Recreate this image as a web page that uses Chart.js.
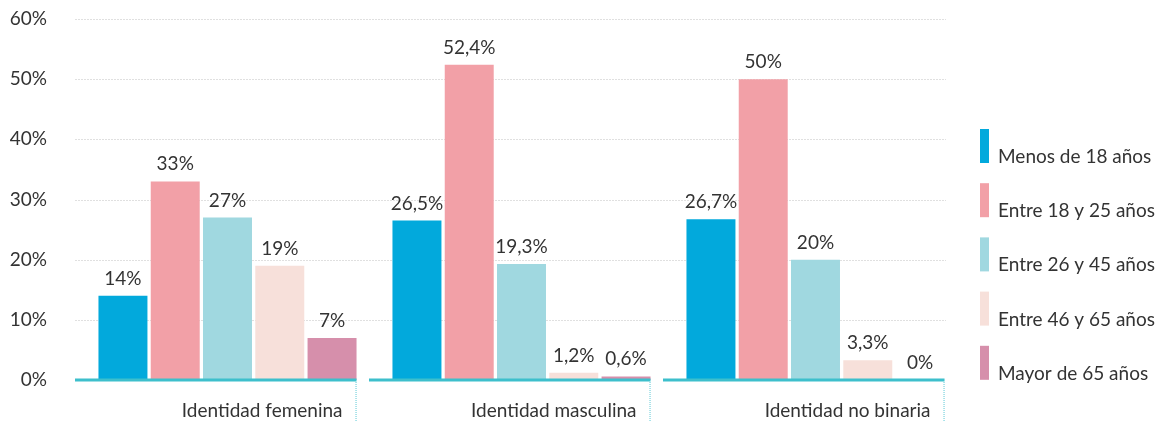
<!DOCTYPE html>
<html lang="es">
<head>
<meta charset="utf-8">
<title>Identidad y edad</title>
<script src="https://cdn.jsdelivr.net/npm/chart.js@4/dist/chart.umd.min.js"></script>
<style>
  html, body { margin: 0; padding: 0; background: #ffffff; }
  #wrap { position: relative; width: 1159px; height: 421px; }
</style>
</head>
<body>
<div id="wrap"><canvas id="chart" width="1159" height="421"></canvas></div>
<script>
// Grupos de identidad y tramos de edad
const categories = ['Identidad femenina', 'Identidad masculina', 'Identidad no binaria'];
const ageGroups = ['Menos de 18 años', 'Entre 18 y 25 años', 'Entre 26 y 45 años', 'Entre 46 y 65 años', 'Mayor de 65 años'];

// Porcentajes por tramo de edad (un valor por grupo de identidad)
const menos18 = [14, 26.5, 26.7];
const entre18y25 = [33, 52.4, 50];
const entre26y45 = [27, 19.3, 20];
const entre46y65 = [19, 1.2, 3.3];
const mayor65 = [7, 0.6, 0];

const yTicks = [0, 10, 20, 30, 40, 50, 60];

const seriesValues = [menos18, entre18y25, entre26y45, entre46y65, mayor65];
const seriesColors = ['#02a9dc', '#f2a0a7', '#a0d8e0', '#f7e0da', '#d68fab'];
const baseColor = '#3dbfcc';
const textColor = '#333333';
const FONT = 'Lato, "Open Sans", sans-serif';
const FONT_SIZE = 19;
const AXIS_INSET = 5.5;   // la línea base y la rejilla arrancan algo antes de cada categoría
const GRID_END = 16.5;    // la rejilla termina antes del borde derecho del área

const fmt = v => String(v).replace('.', ',') + '%';

const datasets = seriesValues.map((vals, s) => ({
  label: ageGroups[s],
  data: vals,
  backgroundColor: seriesColors[s],
  borderWidth: 0,
  categoryPercentage: 0.889,
  barPercentage: 0.937
}));

// Rejilla horizontal punteada
const dottedGrid = {
  id: 'dottedGrid',
  beforeDatasetsDraw(chart) {
    const ctx = chart.ctx;
    const y = chart.scales.y;
    const area = chart.chartArea;
    ctx.save();
    ctx.strokeStyle = '#e0e0e0';
    ctx.lineWidth = 1;
    ctx.setLineDash([2, 1]);
    yTicks.forEach(v => {
      if (v === 0) return;
      const py = Math.round(y.getPixelForValue(v)) + 0.5;
      ctx.beginPath();
      ctx.moveTo(area.left - AXIS_INSET, py);
      ctx.lineTo(area.right - GRID_END, py);
      ctx.stroke();
    });
    ctx.restore();
  }
};

// Etiquetas de valor sobre cada barra
const valueLabels = {
  id: 'valueLabels',
  afterDatasetsDraw(chart) {
    const ctx = chart.ctx;
    ctx.save();
    ctx.font = FONT_SIZE + 'px ' + FONT;
    ctx.fillStyle = textColor;
    ctx.textAlign = 'center';
    ctx.textBaseline = 'alphabetic';
    chart.data.datasets.forEach((ds, s) => {
      const meta = chart.getDatasetMeta(s);
      meta.data.forEach((bar, i) => {
        ctx.fillText(fmt(seriesValues[s][i]), bar.x, bar.y - 11);
      });
    });
    ctx.restore();
  }
};

// Línea base por grupo, separador punteado y nombre de la categoría
const groupAxis = {
  id: 'groupAxis',
  afterDatasetsDraw(chart) {
    const ctx = chart.ctx;
    const x = chart.scales.x;
    const y = chart.scales.y;
    const area = chart.chartArea;
    const step = x.getPixelForValue(1) - x.getPixelForValue(0);
    const lastMeta = chart.getDatasetMeta(chart.data.datasets.length - 1);
    const y0 = y.getPixelForValue(0);
    ctx.save();
    categories.forEach((name, i) => {
      const start = area.left + i * step - AXIS_INSET;
      const lastBar = lastMeta.data[i];
      const end = lastBar.x + lastBar.width / 2;
      ctx.strokeStyle = baseColor;
      ctx.lineWidth = 3;
      ctx.setLineDash([]);
      ctx.beginPath();
      ctx.moveTo(start, y0);
      ctx.lineTo(end, y0);
      ctx.stroke();

      ctx.lineWidth = 1;
      ctx.setLineDash([1, 1]);
      ctx.strokeStyle = '#5cc9d6';
      ctx.beginPath();
      ctx.moveTo(end - 0.5, y0 + 2);
      ctx.lineTo(end - 0.5, chart.height);
      ctx.stroke();

      ctx.setLineDash([]);
      ctx.font = FONT_SIZE + 'px ' + FONT;
      ctx.fillStyle = textColor;
      ctx.textAlign = 'right';
      ctx.textBaseline = 'alphabetic';
      ctx.fillText(name, end - 14, y0 + 37);
    });
    ctx.restore();
  }
};

// Leyenda vertical a la derecha
const sideLegend = {
  id: 'sideLegend',
  afterDraw(chart) {
    const ctx = chart.ctx;
    const left = chart.chartArea.right + 17.5;
    ctx.save();
    ctx.font = FONT_SIZE + 'px ' + FONT;
    ctx.textAlign = 'left';
    ctx.textBaseline = 'alphabetic';
    chart.data.datasets.forEach((ds, s) => {
      const top = 129 + s * 54.2;
      ctx.fillStyle = ds.backgroundColor;
      ctx.fillRect(left, top, 9, 34);
      ctx.fillStyle = textColor;
      ctx.fillText(ds.label, left + 18, top + 34);
    });
    ctx.restore();
  }
};

new Chart(document.getElementById('chart'), {
  type: 'bar',
  data: { labels: categories, datasets },
  options: {
    responsive: false,
    animation: false,
    layout: { padding: { top: 19, right: 196.5, bottom: 41, left: 0 } },
    plugins: {
      legend: { display: false },
      tooltip: { enabled: false }
    },
    scales: {
      x: {
        display: false,
        grid: { display: false }
      },
      y: {
        min: 0,
        max: 60,
        afterFit(scale) { scale.width = 80.5; },
        afterBuildTicks(scale) { scale.ticks = yTicks.map(v => ({ value: v })); },
        border: { display: false },
        // las marcas no se dibujan; su longitud solo separa las etiquetas del área
        grid: { display: false, drawTicks: true, tickLength: 33.5 },
        ticks: {
          padding: 0,
          color: textColor,
          font: { family: FONT, size: FONT_SIZE },
          callback: v => v + '%'
        }
      }
    }
  },
  plugins: [dottedGrid, valueLabels, groupAxis, sideLegend]
});
</script>
</body>
</html>
